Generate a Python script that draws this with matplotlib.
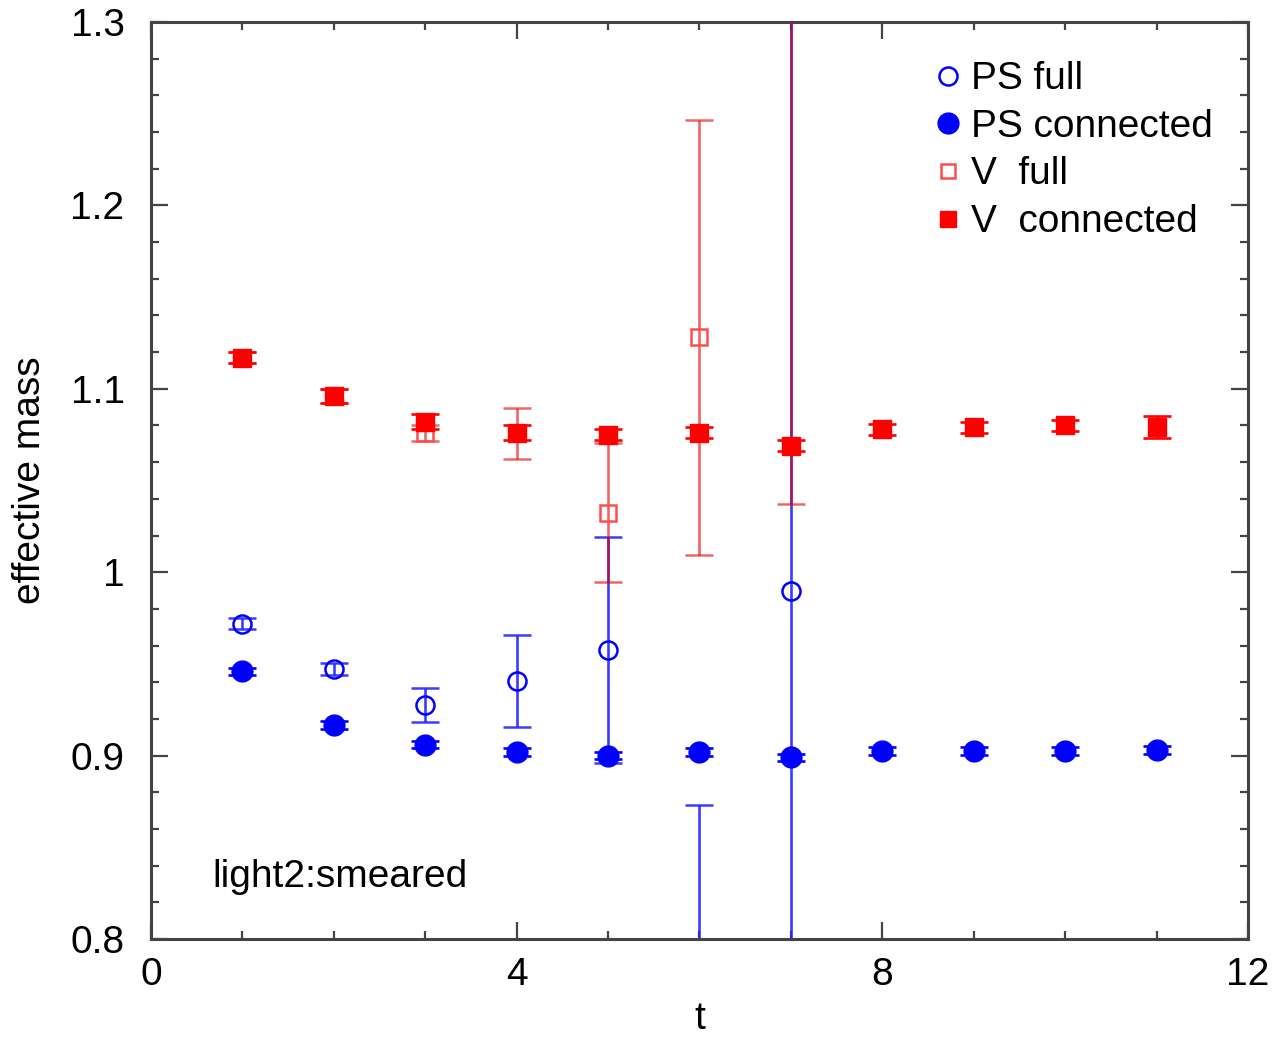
import numpy as np
import matplotlib.pyplot as plt
from matplotlib.lines import Line2D
from matplotlib.ticker import MultipleLocator

plt.rcParams['font.family'] = ['Liberation Sans', 'DejaVu Sans']

## effective mass data, light2 smeared
t = np.arange(1, 12)

ps_full_t = [1, 2, 3, 4, 5, 6, 7]
ps_full = [0.9718, 0.9472, 0.9277, 0.9409, 0.9576, 0.700, 0.990]
ps_full_err = [0.003, 0.0035, 0.0093, 0.0251, 0.0616, 0.173, 0.35]

ps_conn = [0.946, 0.9167, 0.906, 0.902, 0.900, 0.902, 0.899,
           0.9025, 0.9025, 0.9025, 0.903]
ps_conn_err = [0.002, 0.002, 0.002, 0.002, 0.002, 0.002, 0.002,
               0.002, 0.002, 0.002, 0.002]

v_full_t = [1, 2, 3, 4, 5, 6, 7]
v_full = [1.117, 1.096, 1.076, 1.0757, 1.0324, 1.128, 1.40]
v_full_err = [0.003, 0.004, 0.0045, 0.0139, 0.038, 0.1186, 0.363]

v_conn = [1.117, 1.096, 1.082, 1.076, 1.075, 1.076, 1.069,
          1.078, 1.079, 1.080, 1.079]
v_conn_err = [0.003, 0.004, 0.004, 0.004, 0.003, 0.003, 0.003,
              0.003, 0.003, 0.003, 0.006]

blue = '#0000ff'
red = '#ff0000'
fs = 28

fig = plt.figure(figsize=(12.72, 10.37), dpi=100)
ax = fig.add_axes([0.1187, 0.0945, 0.8624, 0.8843])

eb = dict(capsize=10, elinewidth=1.9, capthick=1.9, linestyle='none')

ax.errorbar(ps_full_t, ps_full, yerr=ps_full_err, fmt='o', ms=13,
            mfc='none', mec=blue, mew=1.8, ecolor=(0.15, 0.15, 1.0, 0.9),
            zorder=2, **eb)
ax.errorbar(t, ps_conn, yerr=ps_conn_err, fmt='o', ms=15,
            color=blue, ecolor=blue, zorder=4, **eb)
ax.errorbar(v_full_t, v_full, yerr=v_full_err, fmt='s', ms=11,
            mfc='none', mec=(1.0, 0.3, 0.3), mew=1.8,
            ecolor=(0.9, 0.0, 0.0, 0.6), zorder=3, **eb)
ax.errorbar(t, v_conn, yerr=v_conn_err, fmt='s', ms=13,
            color=red, ecolor=red, zorder=5, **eb)

ax.set_xlim(0, 12)
ax.set_ylim(0.8, 1.3)
ax.xaxis.set_major_locator(MultipleLocator(4))
ax.xaxis.set_minor_locator(MultipleLocator(1))
ax.yaxis.set_minor_locator(MultipleLocator(0.02))
ax.set_yticks([0.8, 0.9, 1.0, 1.1, 1.2, 1.3])
ax.set_yticklabels(['0.8', '0.9', '1', '1.1', '1.2', '1.3'])

ax.tick_params(which='both', direction='in', top=True, right=True,
               color='#444444', labelsize=fs)
ax.tick_params(which='major', length=12, width=1.6)
ax.tick_params(which='minor', length=6, width=1.6)
ax.tick_params(axis='y', pad=19)
ax.tick_params(axis='x', pad=13)
for s in ax.spines.values():
    s.set_linewidth(2.2)
    s.set_color('#444444')

ax.set_xlabel('t', fontsize=fs, labelpad=6)
ax.set_ylabel('effective mass', fontsize=fs, labelpad=16)

ax.text(0.67, 0.834, 'light2:smeared', fontsize=fs, va='center')

handles = [
    Line2D([], [], ls='none', marker='o', ms=13, mfc='none', mec=blue, mew=1.8),
    Line2D([], [], ls='none', marker='o', ms=15, color=blue),
    Line2D([], [], ls='none', marker='s', ms=10, mfc='none',
           mec=(1.0, 0.3, 0.3), mew=1.8),
    Line2D([], [], ls='none', marker='s', ms=12, color=red),
]
labels = ['PS full', 'PS connected', 'V  full', 'V  connected']
ax.legend(handles, labels, loc='upper right', frameon=False, fontsize=fs,
          handlelength=0.6, handletextpad=0.3, labelspacing=0.3,
          borderaxespad=0.3, bbox_to_anchor=(0.993, 0.987))

plt.savefig('out.png', dpi=100)
plt.close(fig)
